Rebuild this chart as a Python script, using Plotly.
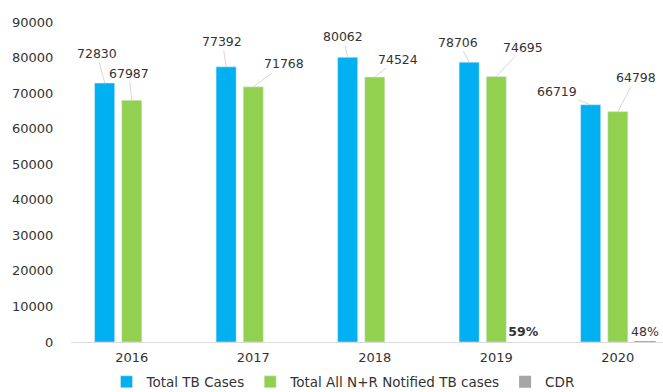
import plotly.graph_objects as go

years = ["2016", "2017", "2018", "2019", "2020"]
total_tb = [72830, 77392, 80062, 78706, 66719]
notified = [67987, 71768, 74524, 74695, 64798]
cdr = [None, None, None, 0.59, 0.48]
cdr_labels = ["", "", "", "<b>59%</b>", "48%"]

# label callout offsets (pixels) - styling only
blue_off = [(-8, -30), (-4, -25), (-5, -21), (-11, -20), (-34, -13)]
green_off = [(-3, -27), (31, -23), (23, -18), (27, -29), (18, -34)]

BLUE = "#00B0F0"
GREEN = "#92D050"
GRAY = "#A5A5A5"
FONT = "DejaVu Sans"
TXT = "#333333"

fig = go.Figure()
fig.add_bar(x=years, y=total_tb, name="Total TB Cases", marker_color=BLUE)
fig.add_bar(x=years, y=notified, name="Total All N+R Notified TB cases", marker_color=GREEN)
fig.add_bar(x=years, y=[c * 100 if c is not None else None for c in cdr], name="CDR",
            marker=dict(color=[GRAY, GRAY, GRAY, "rgba(0,0,0,0)", GRAY],
                        line=dict(color=GRAY, width=[0, 0, 0, 0, 1.5])),
            text=cdr_labels, textposition="outside", cliponaxis=False,
            constraintext="none",
            textfont=dict(family=FONT, size=12.5, color=TXT))

slot = 0.222
anns = []
for i, (v1, v2) in enumerate(zip(total_tb, notified)):
    for xv, v, off in ((i - slot, v1, blue_off[i]), (i, v2, green_off[i])):
        anns.append(dict(x=xv, y=v, xref="x", yref="y", text=f"{v}",
                         showarrow=True, arrowhead=0, arrowwidth=0.8,
                         arrowcolor="#D8C8C0", ax=off[0], ay=off[1], standoff=0,
                         font=dict(family=FONT, size=12.5, color=TXT)))

fig.update_layout(
    width=663, height=392,
    margin=dict(l=71, r=0, t=22, b=50, autoexpand=False),
    paper_bgcolor="white", plot_bgcolor="white",
    barmode="group", bargap=0.33, bargroupgap=0.26,
    font=dict(family=FONT, size=13, color=TXT),
    annotations=anns,
    showlegend=True,
    legend=dict(orientation="h", x=0.06, xanchor="left", xref="paper",
                y=0.065, yanchor="top", yref="container",
                bgcolor="rgba(0,0,0,0)",
                font=dict(family=FONT, size=13.5, color=TXT), itemwidth=30,
                traceorder="normal"),
    xaxis=dict(range=[-0.5, 4.372], showgrid=False, showline=True, linecolor="#D9D9D9",
               linewidth=1, ticks="outside", ticklen=3, tickcolor="rgba(0,0,0,0)",
               automargin=False,
               tickfont=dict(family=FONT, size=13, color=TXT)),
    yaxis=dict(range=[0, 90000], dtick=10000, tickformat="d", showgrid=False,
               zeroline=False, showline=False, ticks="outside", ticklen=14,
               tickcolor="rgba(0,0,0,0)", automargin=False,
               tickfont=dict(family=FONT, size=13, color=TXT)),
)

fig.write_html("out.html")
